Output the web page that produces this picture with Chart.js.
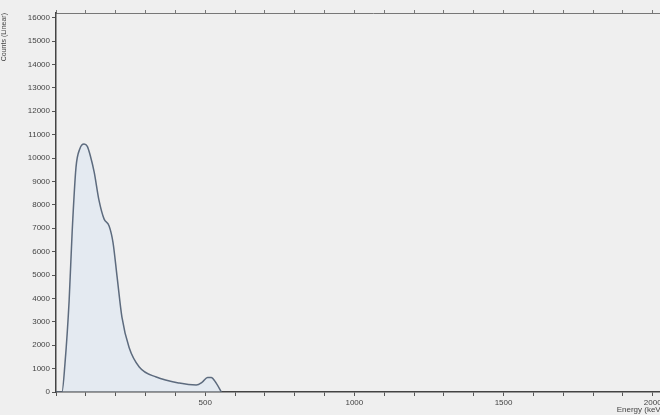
<!DOCTYPE html>
<html>
<head>
<meta charset="utf-8">
<script src="https://cdn.jsdelivr.net/npm/chart.js@4"></script>
<style>
	html, body { margin: 0; padding: 0; background: #efefef; overflow: hidden; }
	#wrap { width: 690px; height: 415px; }
</style>
</head>
<body>
<div id="wrap"><canvas id="spectrumChart"></canvas></div>
<script>
// spectrum (channel, counts)
const channels = [0, 20, 30, 44, 54, 67, 80, 94, 105, 115, 128, 144, 161, 178, 191, 205, 221, 245, 279, 336, 413, 470, 490, 508, 520, 537, 554];
const counts = [0, 0, 1200, 3900, 6800, 9600, 10400, 10600, 10500, 10100, 9400, 8200, 7400, 7100, 6400, 4900, 3200, 1900, 1070, 640, 380, 300, 420, 620, 620, 380, 0];
const xLabels = [500, 1000, 1500, 2000];
const yLabels = [0, 1000, 2000, 3000, 4000, 5000, 6000, 7000, 8000, 9000, 10000, 11000, 12000, 13000, 14000, 15000, 16000];

(() => {
	'use strict'

	const ctx = document.getElementById('spectrumChart');
	const points = channels.map((c, i) => ({ x: c, y: counts[i] }));
	const tickFont = { family: 'Liberation Sans', size: 8 };
	const xMax = 2125; // canvas runs past the 660px window, as the reference is cropped

	new Chart(ctx, {
		type: 'line',
		data: {
			datasets: [{
				data: points,
				borderColor: '#5d6b7e',
				borderWidth: 1.5,
				backgroundColor: 'rgba(215, 228, 245, 0.45)',
				fill: 'origin',
				pointRadius: 0,
				cubicInterpolationMode: 'monotone'
			}]
		},
		options: {
			animation: false,
			responsive: true,
			maintainAspectRatio: false,
			layout: { padding: 0 },
			plugins: { legend: { display: false }, tooltip: { enabled: false } },
			scales: {
				x: {
					type: 'linear',
					min: 0,
					max: xMax,
					afterBuildTicks: (scale) => {
						const ticks = [];
						for (let v = 0; v <= 2100; v += 100) ticks.push({ value: v });
						scale.ticks = ticks;
					},
					afterFit: (scale) => { scale.height = 23; },
					grid: {
						drawOnChartArea: false,
						tickLength: 4,
						tickColor: '#555'
					},
					border: { color: '#444', width: 1.5 },
					ticks: {
						autoSkip: false,
						maxRotation: 0,
						padding: 2,
						color: '#444',
						font: tickFont,
						callback: (value) => xLabels.includes(value) ? String(value) : ''
					},
					title: {
						display: true,
						// trailing spaces pull the title back inside the visible window
						text: 'Energy (keV)            ',
						align: 'end',
						color: '#444',
						font: { family: 'Liberation Sans', size: 8 },
						padding: { top: 0, bottom: 0 }
					}
				},
				xTop: {
					type: 'linear',
					position: 'top',
					min: 0,
					max: xMax,
					afterFit: (scale) => { scale.height = 13; },
					grid: { drawOnChartArea: false, tickLength: 3, tickColor: '#777' },
					border: { color: '#777', width: 1 },
					ticks: { display: false, stepSize: 100 }
				},
				y: {
					min: 0,
					max: 16200,
					afterBuildTicks: (scale) => {
						scale.ticks = yLabels.map((v) => ({ value: v }));
					},
					afterFit: (scale) => { scale.width = 56; },
					grid: { drawOnChartArea: false, tickLength: 4, tickColor: '#555' },
					border: { color: '#444', width: 1.5 },
					ticks: {
						autoSkip: false,
						padding: 2,
						color: '#444',
						font: tickFont,
						callback: (value) => String(value)
					},
					title: {
						display: true,
						text: 'Counts (Linear)',
						align: 'end',
						color: '#444',
						font: { family: 'Liberation Sans', size: 7 },
						padding: 0
					}
				}
			}
		}
	});
})()
</script>
</body>
</html>
